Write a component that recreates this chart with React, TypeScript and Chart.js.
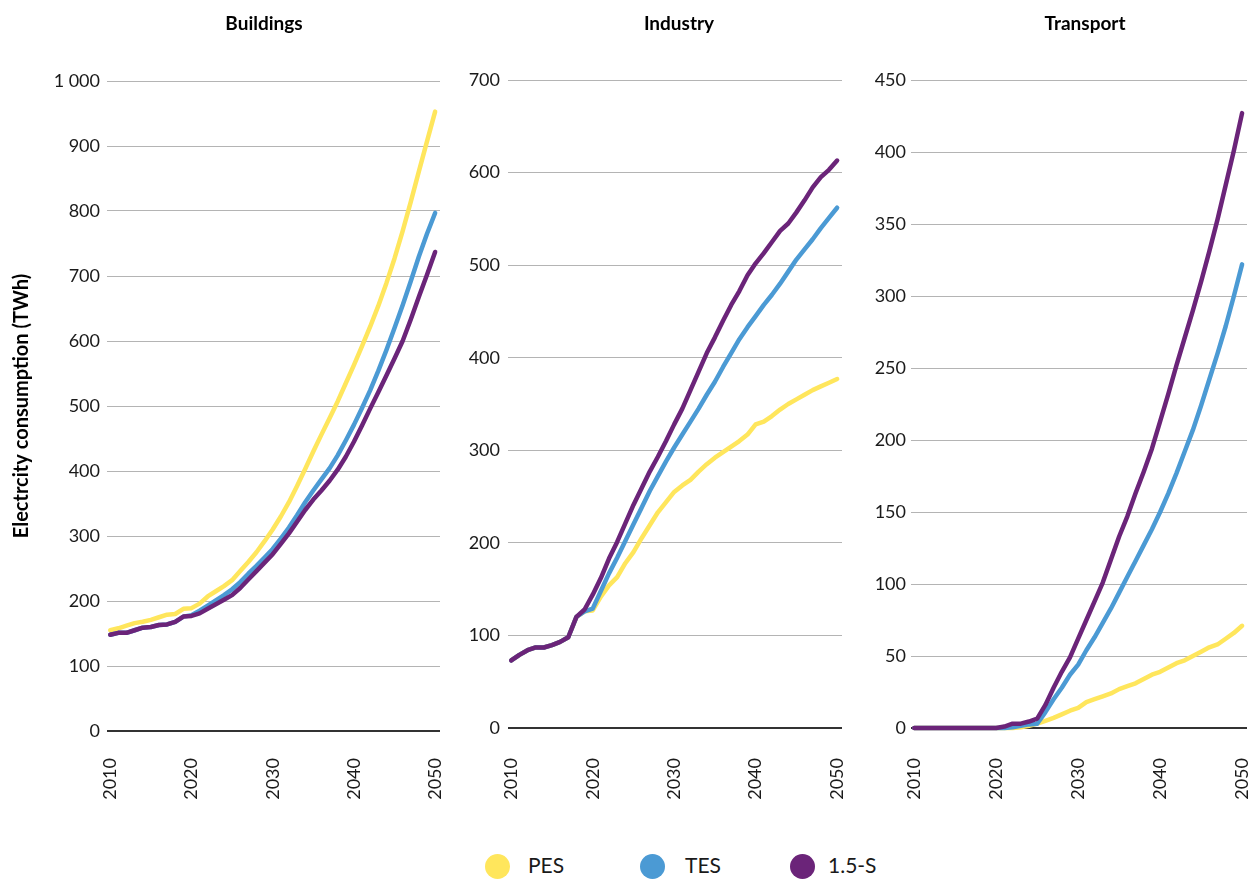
import React, { useEffect, useRef } from 'react';
import { Chart, registerables } from 'chart.js';

Chart.register(...registerables);

// ---------- DATA ----------
const YEARS = [
  2010, 2011, 2012, 2013, 2014, 2015, 2016, 2017, 2018, 2019,
  2020, 2021, 2022, 2023, 2024, 2025, 2026, 2027, 2028, 2029,
  2030, 2031, 2032, 2033, 2034, 2035, 2036, 2037, 2038, 2039,
  2040, 2041, 2042, 2043, 2044, 2045, 2046, 2047, 2048, 2049,
  2050,
];
const X_TICKS = [2010, 2020, 2030, 2040, 2050];

const SERIES_NAMES = ['PES', 'TES', '1.5-S'];
const SERIES_COLORS = ['#FFE65C', '#4B9AD4', '#6B2479'];

const PANEL_TITLES = ['Buildings', 'Industry', 'Transport'];
const Y_MAX = [1000, 700, 450];
const Y_STEP = [100, 100, 50];
const Y_TITLE = 'Electrcity consumption (TWh)';

const BUILDINGS_PES = [
  155, 158, 162, 166, 168, 171, 175, 179, 180, 188,
  189, 196, 207, 215, 223, 232, 246, 260, 275, 292,
  310, 330, 352, 377, 403, 430, 456, 481, 507, 535,
  563, 592, 622, 654, 689, 727, 769, 814, 861, 907,
  953,
];
const BUILDINGS_TES = [
  148, 151, 151, 155, 159, 160, 163, 164, 168, 176,
  178, 185, 193, 201, 209, 218, 229, 242, 254, 267,
  280, 296, 313, 332, 352, 370, 387, 404, 424, 447,
  471, 497, 524, 554, 586, 620, 655, 692, 730, 765,
  797,
];
const BUILDINGS_15S = [
  148, 151, 151, 155, 159, 160, 163, 164, 168, 176,
  177, 181, 188, 195, 202, 209, 220, 233, 246, 259,
  272, 288, 304, 322, 340, 356, 370, 385, 402, 422,
  445, 470, 496, 521, 547, 573, 600, 633, 668, 702,
  737,
];

const INDUSTRY_PES = [
  73, 79, 84, 87, 87, 89.5, 93, 98, 120, 126,
  127, 142, 154, 163, 178, 190, 205, 219, 233, 244,
  255, 262, 268, 277, 285, 292, 298, 304, 310, 317,
  328, 331, 337, 344, 350, 355, 360, 365, 369, 373,
  377,
];
const INDUSTRY_TES = [
  73, 79, 84, 87, 87, 89.5, 93, 98, 120, 126,
  129, 148, 167, 184, 202, 220, 238, 256, 272, 288,
  303, 317, 331, 345, 360, 374, 390, 405, 420, 433,
  445, 457, 468, 480, 493, 506, 517, 528, 540, 551,
  562,
];
const INDUSTRY_15S = [
  73, 79, 84, 87, 87, 89.5, 93, 98, 120, 128,
  144, 162, 183, 201, 221, 241, 259, 277, 293, 310,
  328, 345, 365, 385, 405, 422, 440, 457, 472, 489,
  502, 513, 525, 537, 545, 557, 570, 584, 595, 603,
  613,
];

const TRANSPORT_PES = [
  0, 0, 0, 0, 0, 0, 0, 0, 0, 0,
  0, 0, 0, 0.5, 1.5, 3, 5, 7, 9.5, 12,
  14, 18, 20, 22, 24, 27, 29, 31, 34, 37,
  39, 42, 45, 47, 50, 53, 56, 58, 62, 66,
  71,
];
const TRANSPORT_TES = [
  0, 0, 0, 0, 0, 0, 0, 0, 0, 0,
  0, 0, 0.5, 1.5, 2.5, 3, 11, 20, 28, 37,
  44, 54, 63, 73, 83, 94, 105, 116, 127, 138,
  150, 163, 177, 192, 207, 224, 242, 260, 279, 300,
  322,
];
const TRANSPORT_15S = [
  0, 0, 0, 0, 0, 0, 0, 0, 0, 0,
  0, 1, 3, 3, 4.5, 6.5, 16, 28, 39, 49,
  62, 75, 88, 101, 117, 133, 147, 163, 178, 194,
  213, 232, 252, 271, 290, 310, 331, 353, 377, 401,
  427,
];

const PANEL_SERIES = [
  [BUILDINGS_PES, BUILDINGS_TES, BUILDINGS_15S],
  [INDUSTRY_PES, INDUSTRY_TES, INDUSTRY_15S],
  [TRANSPORT_PES, TRANSPORT_TES, TRANSPORT_15S],
];

// ---------- LAYOUT (page pixels) ----------
const CANVAS_H = 830;
const PANEL_LAYOUT = [
  { canvasLeft: 0, canvasRight: 452, left: 107, right: 440, top: 81, bottom: 731, xMin: 2009.6, xMax: 2050.6, tickPad: 7, xLabelTop: 758, titleX: 264 },
  { canvasLeft: 452, canvasRight: 852, left: 508, right: 842, top: 80, bottom: 728, xMin: 2009.6, xMax: 2050.6, tickPad: 8, xLabelTop: 758, titleX: 679 },
  { canvasLeft: 852, canvasRight: 1255, left: 911, right: 1247, top: 80, bottom: 728, xMin: 2009.6, xMax: 2050.6, tickPad: 5, xLabelTop: 758, titleX: 1085 },
];

const FONT = 'Lato';
const TEXT_COLOR = '#1a1a1a';

const titlePlugin = {
  id: 'panelTitle',
  afterDraw(chart: any, _args: any, opts: any) {
    if (!opts || !opts.text) return;
    const ctx = chart.ctx;
    ctx.save();
    ctx.font = opts.font;
    ctx.fillStyle = opts.color;
    ctx.textAlign = 'center';
    ctx.textBaseline = 'alphabetic';
    ctx.fillText(opts.text, opts.x, opts.y);
    ctx.restore();
  },
};

function Panel({ index }: { index: number }) {
  const ref = useRef<HTMLCanvasElement | null>(null);
  const L = PANEL_LAYOUT[index];
  const width = L.canvasRight - L.canvasLeft;

  useEffect(() => {
    const series = PANEL_SERIES[index];
    const datasets = series.map((vals, si) => ({
      label: SERIES_NAMES[si],
      data: YEARS.map((yr, i) => ({ x: yr, y: vals[i] })),
      borderColor: SERIES_COLORS[si],
      backgroundColor: SERIES_COLORS[si],
      borderWidth: 4.5,
      pointRadius: 0,
      pointHoverRadius: 0,
      tension: 0,
      borderCapStyle: 'round',
      borderJoinStyle: 'round',
      fill: false,
      clip: false,
      order: 2 - si,
    }));

    const chart = new Chart(ref.current as HTMLCanvasElement, {
      type: 'line',
      data: { datasets } as any,
      plugins: [titlePlugin as any],
      options: {
        animation: false,
        responsive: false,
        maintainAspectRatio: false,
        events: [],
        layout: {
          padding: {
            left: 0,
            top: L.top,
            right: L.canvasRight - L.right,
            bottom: 0,
          },
        },
        plugins: {
          legend: { display: false },
          tooltip: { enabled: false },
          title: { display: false },
          panelTitle: {
            text: PANEL_TITLES[index],
            x: L.titleX - L.canvasLeft,
            y: 30,
            font: `bold 19px ${FONT}`,
            color: '#000',
          },
        } as any,
        scales: {
          x: {
            type: 'linear',
            min: L.xMin,
            max: L.xMax,
            grid: { display: false, drawTicks: false },
            border: { display: false },
            afterBuildTicks: (scale: any) => {
              scale.ticks = X_TICKS.map((v) => ({ value: v }));
            },
            afterFit: (scale: any) => {
              scale.height = CANVAS_H - L.bottom;
              scale.paddingLeft = 0;
              scale.paddingRight = 0;
            },
            ticks: {
              autoSkip: false,
              minRotation: 90,
              maxRotation: 90,
              padding: L.xLabelTop - L.bottom,
              color: TEXT_COLOR,
              font: { family: FONT, size: 18 },
              callback: (v: any) => String(v),
            },
          },
          y: {
            type: 'linear',
            min: 0,
            max: Y_MAX[index],
            grid: {
              drawTicks: false,
              color: (c: any) => (c.tick && c.tick.value === 0 ? '#333333' : '#b4b4b4'),
              lineWidth: (c: any) => (c.tick && c.tick.value === 0 ? 2 : 1),
            },
            border: { display: false },
            afterFit: (scale: any) => {
              scale.width = L.left - L.canvasLeft;
              scale.paddingTop = 0;
              scale.paddingBottom = 0;
            },
            ticks: {
              stepSize: Y_STEP[index],
              padding: L.tickPad,
              color: TEXT_COLOR,
              font: { family: FONT, size: 18 },
              callback: (v: any) => (v === 1000 ? '1 000' : String(v)),
            },
            title: {
              display: index === 0,
              text: Y_TITLE,
              color: '#000',
              font: { family: FONT, size: 20, weight: 'bold' },
              padding: { top: 10, bottom: 0 },
            },
          },
        },
      } as any,
    });
    return () => chart.destroy();
  }, [index]);

  return (
    <canvas
      ref={ref}
      width={width}
      height={CANVAS_H}
      style={{ position: 'absolute', left: L.canvasLeft, top: 0, width, height: CANVAS_H }}
    />
  );
}

const LEGEND_LAYOUT = [
  { cx: 497.5, textX: 528 },
  { cx: 652, textX: 685 },
  { cx: 802.5, textX: 828 },
];

function Legend() {
  return (
    <>
      {SERIES_NAMES.map((name, i) => (
        <React.Fragment key={name}>
          <div
            style={{
              position: 'absolute',
              left: LEGEND_LAYOUT[i].cx - 12.5,
              top: 853.5,
              width: 25,
              height: 25,
              borderRadius: '50%',
              background: SERIES_COLORS[i],
            }}
          />
          <div
            style={{
              position: 'absolute',
              left: LEGEND_LAYOUT[i].textX,
              top: 854,
              fontFamily: FONT,
              fontSize: 21,
              lineHeight: '21px',
              color: TEXT_COLOR,
              whiteSpace: 'nowrap',
            }}
          >
            {name}
          </div>
        </React.Fragment>
      ))}
    </>
  );
}

export default function App() {
  return (
    <div
      style={{
        position: 'absolute',
        left: 0,
        top: 0,
        width: 1255,
        height: 879,
        overflow: 'hidden',
        background: '#fff',
      }}
    >
      <Panel index={0} />
      <Panel index={1} />
      <Panel index={2} />
      <Legend />
    </div>
  );
}
